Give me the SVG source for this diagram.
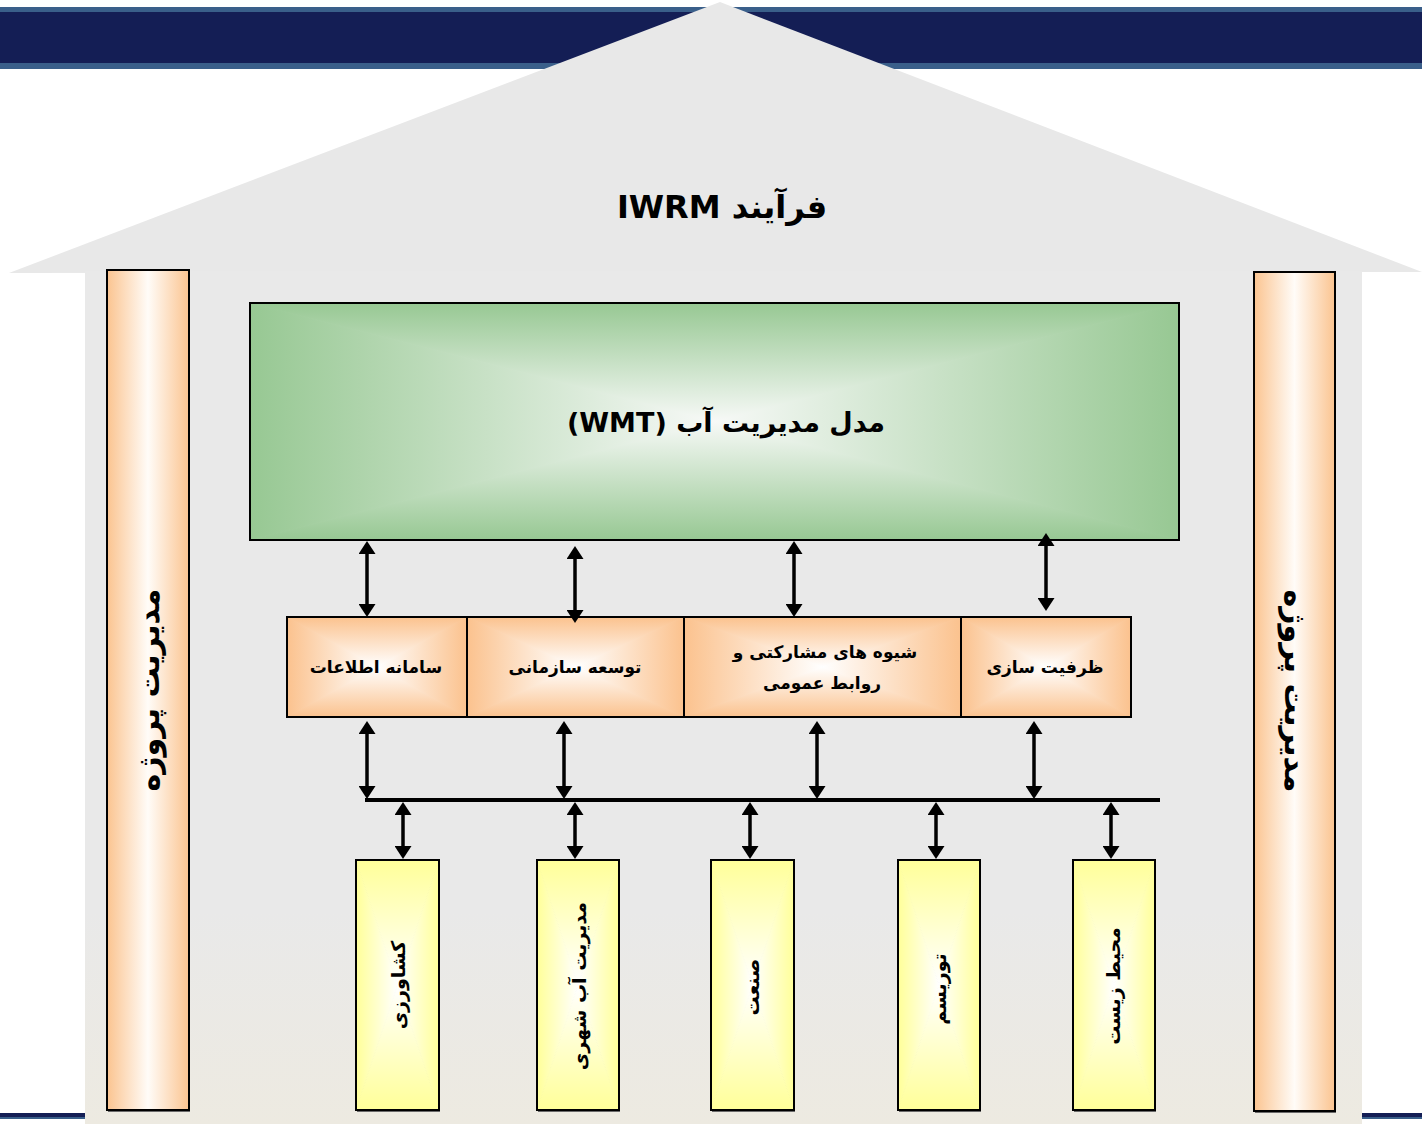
<svg xmlns="http://www.w3.org/2000/svg" width="1422" height="1124" viewBox="0 0 1422 1124">
<defs>
<style>
text{font-family:"DejaVu Sans","Liberation Sans",sans-serif;font-weight:bold;fill:#000;direction:rtl;}
.box{stroke:#000;stroke-width:2;}
.shadow{fill:#6a6a6a;}
.con{stroke:#000;stroke-width:3.5;fill:none;marker-start:url(#ah);marker-end:url(#ah);}
.bus{stroke:#000;stroke-width:4;fill:none;}
</style>
<marker id="ah" viewBox="0 0 13 17" refX="2" refY="8.5" markerWidth="13" markerHeight="17" markerUnits="userSpaceOnUse" orient="auto-start-reverse"><path d="M0,0 L13,8.5 L0,17 Z" fill="#000"/></marker>
<linearGradient id="body" x1="0" y1="0" x2="0" y2="1"><stop offset="0" stop-color="#e9e9e9"/><stop offset="0.75" stop-color="#e9e9e9"/><stop offset="1" stop-color="#edeae1"/></linearGradient>
<linearGradient id="pillar" x1="0" y1="0" x2="1" y2="0"><stop offset="0" stop-color="#fbc490"/><stop offset="0.5" stop-color="#fffcf8"/><stop offset="1" stop-color="#fbc490"/></linearGradient>
<linearGradient id="gT" x1="0" y1="0" x2="0" y2="1"><stop offset="0" stop-color="#97c893"/><stop offset="1" stop-color="#f7f9f7"/></linearGradient>
<linearGradient id="gB" x1="0" y1="0" x2="0" y2="1"><stop offset="0" stop-color="#f7f9f7"/><stop offset="1" stop-color="#97c893"/></linearGradient>
<linearGradient id="gL" x1="0" y1="0" x2="1" y2="0"><stop offset="0" stop-color="#97c893"/><stop offset="1" stop-color="#f7f9f7"/></linearGradient>
<linearGradient id="gR" x1="0" y1="0" x2="1" y2="0"><stop offset="0" stop-color="#f7f9f7"/><stop offset="1" stop-color="#97c893"/></linearGradient>
<linearGradient id="oT" x1="0" y1="0" x2="0" y2="1"><stop offset="0" stop-color="#fbc28e"/><stop offset="1" stop-color="#ffffff"/></linearGradient>
<linearGradient id="oB" x1="0" y1="0" x2="0" y2="1"><stop offset="0" stop-color="#ffffff"/><stop offset="1" stop-color="#fbc28e"/></linearGradient>
<linearGradient id="oL" x1="0" y1="0" x2="1" y2="0"><stop offset="0" stop-color="#fbc28e"/><stop offset="1" stop-color="#ffffff"/></linearGradient>
<linearGradient id="oR" x1="0" y1="0" x2="1" y2="0"><stop offset="0" stop-color="#ffffff"/><stop offset="1" stop-color="#fbc28e"/></linearGradient>
<linearGradient id="yT" x1="0" y1="0" x2="0" y2="1"><stop offset="0" stop-color="#ffff99"/><stop offset="1" stop-color="#ffffff"/></linearGradient>
<linearGradient id="yB" x1="0" y1="0" x2="0" y2="1"><stop offset="0" stop-color="#ffffff"/><stop offset="1" stop-color="#ffff99"/></linearGradient>
<linearGradient id="yL" x1="0" y1="0" x2="1" y2="0"><stop offset="0" stop-color="#ffff99"/><stop offset="1" stop-color="#ffffff"/></linearGradient>
<linearGradient id="yR" x1="0" y1="0" x2="1" y2="0"><stop offset="0" stop-color="#ffffff"/><stop offset="1" stop-color="#ffff99"/></linearGradient>
</defs>

<rect width="1422" height="1124" fill="#ffffff"/>

<g id="banner">
<rect x="0" y="7" width="1422" height="62" fill="#3a5f8a"/>
<rect x="0" y="12" width="1422" height="51" fill="#141e55"/>
<rect x="0" y="1113" width="1422" height="6" fill="#3a5f8a"/>
<rect x="0" y="1113" width="1422" height="4" fill="#141e55"/>
</g>

<g id="house">
<polygon points="720,2 1422,272 9,273" fill="#e8e8e8"/>
<rect x="85" y="271" width="1277" height="853" fill="url(#body)"/>
<text x="722" y="218" font-size="32" text-anchor="middle">فرآیند IWRM</text>
</g>

<g id="pillar-left">
<rect class="shadow" x="108" y="272" width="82" height="840"/>
<rect x="107" y="270" width="82" height="840" fill="url(#pillar)" class="box"/>
<text transform="translate(148,690) rotate(-90)" font-size="30" text-anchor="middle" dominant-baseline="central">مدیریت پروژه</text>
</g>

<g id="pillar-right">
<rect class="shadow" x="1255" y="274" width="81" height="839"/>
<rect x="1254" y="272" width="81" height="839" fill="url(#pillar)" class="box"/>
<text transform="translate(1295,691) rotate(90)" font-size="30" text-anchor="middle" dominant-baseline="central">مدیریت پروژه</text>
</g>

<g id="wmt">
<polygon points="250,303 1179,303 714.5,421.5" fill="url(#gT)" stroke="url(#gT)"/>
<polygon points="250,540 1179,540 714.5,421.5" fill="url(#gB)" stroke="url(#gB)"/>
<polygon points="250,303 250,540 714.5,421.5" fill="url(#gL)" stroke="url(#gL)"/>
<polygon points="1179,303 1179,540 714.5,421.5" fill="url(#gR)" stroke="url(#gR)"/>
<rect x="250" y="303" width="929" height="237" fill="none" class="box" stroke-width="2.5"/>
<text x="726" y="432" font-size="27" text-anchor="middle">مدل مدیریت آب (WMT)</text>
</g>

<g id="n-info">
<polygon points="287,617 467,617 377,667" fill="url(#oT)" stroke="url(#oT)"/>
<polygon points="287,717 467,717 377,667" fill="url(#oB)" stroke="url(#oB)"/>
<polygon points="287,617 287,717 377,667" fill="url(#oL)" stroke="url(#oL)"/>
<polygon points="467,617 467,717 377,667" fill="url(#oR)" stroke="url(#oR)"/>
<rect x="287" y="617" width="180" height="100" fill="none" class="box"/>
<text x="376" y="673" font-size="17" text-anchor="middle">سامانه اطلاعات</text>
</g>

<g id="n-org">
<polygon points="467,617 684,617 575.5,667" fill="url(#oT)" stroke="url(#oT)"/>
<polygon points="467,717 684,717 575.5,667" fill="url(#oB)" stroke="url(#oB)"/>
<polygon points="467,617 467,717 575.5,667" fill="url(#oL)" stroke="url(#oL)"/>
<polygon points="684,617 684,717 575.5,667" fill="url(#oR)" stroke="url(#oR)"/>
<rect x="467" y="617" width="217" height="100" fill="none" class="box"/>
<text x="575" y="673" font-size="17" text-anchor="middle">توسعه سازمانی</text>
</g>

<g id="n-part">
<polygon points="684,617 961,617 822.5,667" fill="url(#oT)" stroke="url(#oT)"/>
<polygon points="684,717 961,717 822.5,667" fill="url(#oB)" stroke="url(#oB)"/>
<polygon points="684,617 684,717 822.5,667" fill="url(#oL)" stroke="url(#oL)"/>
<polygon points="961,617 961,717 822.5,667" fill="url(#oR)" stroke="url(#oR)"/>
<rect x="684" y="617" width="277" height="100" fill="none" class="box"/>
<text x="825" y="658" font-size="17" text-anchor="middle">شیوه های مشارکتی و</text>
<text x="822" y="689" font-size="17" text-anchor="middle">روابط عمومی</text>
</g>

<g id="n-cap">
<polygon points="961,617 1131,617 1046,667" fill="url(#oT)" stroke="url(#oT)"/>
<polygon points="961,717 1131,717 1046,667" fill="url(#oB)" stroke="url(#oB)"/>
<polygon points="961,617 961,717 1046,667" fill="url(#oL)" stroke="url(#oL)"/>
<polygon points="1131,617 1131,717 1046,667" fill="url(#oR)" stroke="url(#oR)"/>
<rect x="961" y="617" width="170" height="100" fill="none" class="box"/>
<text x="1045" y="673" font-size="17" text-anchor="middle">ظرفیت سازی</text>
</g>

<g id="s-agri">
<rect class="shadow" x="357" y="862" width="83" height="250"/>
<polygon points="356,860 439,860 397.5,985" fill="url(#yT)" stroke="url(#yT)"/>
<polygon points="356,1110 439,1110 397.5,985" fill="url(#yB)" stroke="url(#yB)"/>
<polygon points="356,860 356,1110 397.5,985" fill="url(#yL)" stroke="url(#yL)"/>
<polygon points="439,860 439,1110 397.5,985" fill="url(#yR)" stroke="url(#yR)"/>
<rect x="356" y="860" width="83" height="250" fill="none" class="box"/>
<text transform="translate(398,985) rotate(-90)" font-size="19" text-anchor="middle" dominant-baseline="central">کشاورزی</text>
</g>

<g id="s-urban">
<rect class="shadow" x="538" y="862" width="82" height="250"/>
<polygon points="537,860 619,860 578,985" fill="url(#yT)" stroke="url(#yT)"/>
<polygon points="537,1110 619,1110 578,985" fill="url(#yB)" stroke="url(#yB)"/>
<polygon points="537,860 537,1110 578,985" fill="url(#yL)" stroke="url(#yL)"/>
<polygon points="619,860 619,1110 578,985" fill="url(#yR)" stroke="url(#yR)"/>
<rect x="537" y="860" width="82" height="250" fill="none" class="box"/>
<text transform="translate(579,986) rotate(-90)" font-size="19" text-anchor="middle" dominant-baseline="central">مدیریت آب شهری</text>
</g>

<g id="s-ind">
<rect class="shadow" x="712" y="862" width="83" height="250"/>
<polygon points="711,860 794,860 752.5,985" fill="url(#yT)" stroke="url(#yT)"/>
<polygon points="711,1110 794,1110 752.5,985" fill="url(#yB)" stroke="url(#yB)"/>
<polygon points="711,860 711,1110 752.5,985" fill="url(#yL)" stroke="url(#yL)"/>
<polygon points="794,860 794,1110 752.5,985" fill="url(#yR)" stroke="url(#yR)"/>
<rect x="711" y="860" width="83" height="250" fill="none" class="box"/>
<text transform="translate(752,987) rotate(-90)" font-size="19" text-anchor="middle" dominant-baseline="central">صنعت</text>
</g>

<g id="s-tour">
<rect class="shadow" x="899" y="862" width="82" height="250"/>
<polygon points="898,860 980,860 939,985" fill="url(#yT)" stroke="url(#yT)"/>
<polygon points="898,1110 980,1110 939,985" fill="url(#yB)" stroke="url(#yB)"/>
<polygon points="898,860 898,1110 939,985" fill="url(#yL)" stroke="url(#yL)"/>
<polygon points="980,860 980,1110 939,985" fill="url(#yR)" stroke="url(#yR)"/>
<rect x="898" y="860" width="82" height="250" fill="none" class="box"/>
<text transform="translate(939,989) rotate(-90)" font-size="19" text-anchor="middle" dominant-baseline="central">توریسم</text>
</g>

<g id="s-env">
<rect class="shadow" x="1074" y="862" width="82" height="250"/>
<polygon points="1073,860 1155,860 1114,985" fill="url(#yT)" stroke="url(#yT)"/>
<polygon points="1073,1110 1155,1110 1114,985" fill="url(#yB)" stroke="url(#yB)"/>
<polygon points="1073,860 1073,1110 1114,985" fill="url(#yL)" stroke="url(#yL)"/>
<polygon points="1155,860 1155,1110 1114,985" fill="url(#yR)" stroke="url(#yR)"/>
<rect x="1073" y="860" width="82" height="250" fill="none" class="box"/>
<text transform="translate(1113,986) rotate(-90)" font-size="19" text-anchor="middle" dominant-baseline="central">محیط زیست</text>
</g>

<g id="connectors">
<line class="con" x1="367" y1="552" x2="367" y2="606"/>
<line class="con" x1="575" y1="557" x2="575" y2="612"/>
<line class="con" x1="794" y1="552" x2="794" y2="606"/>
<line class="con" x1="1046" y1="544" x2="1046" y2="600"/>
<line class="con" x1="367" y1="732" x2="367" y2="788"/>
<line class="con" x1="564" y1="732" x2="564" y2="788"/>
<line class="con" x1="817" y1="732" x2="817" y2="788"/>
<line class="con" x1="1034" y1="732" x2="1034" y2="788"/>
<line class="bus" x1="365" y1="800" x2="1160" y2="800"/>
<line class="con" x1="403" y1="813" x2="403" y2="848"/>
<line class="con" x1="575" y1="813" x2="575" y2="848"/>
<line class="con" x1="750" y1="813" x2="750" y2="848"/>
<line class="con" x1="936" y1="813" x2="936" y2="848"/>
<line class="con" x1="1111" y1="813" x2="1111" y2="848"/>
</g>
</svg>
